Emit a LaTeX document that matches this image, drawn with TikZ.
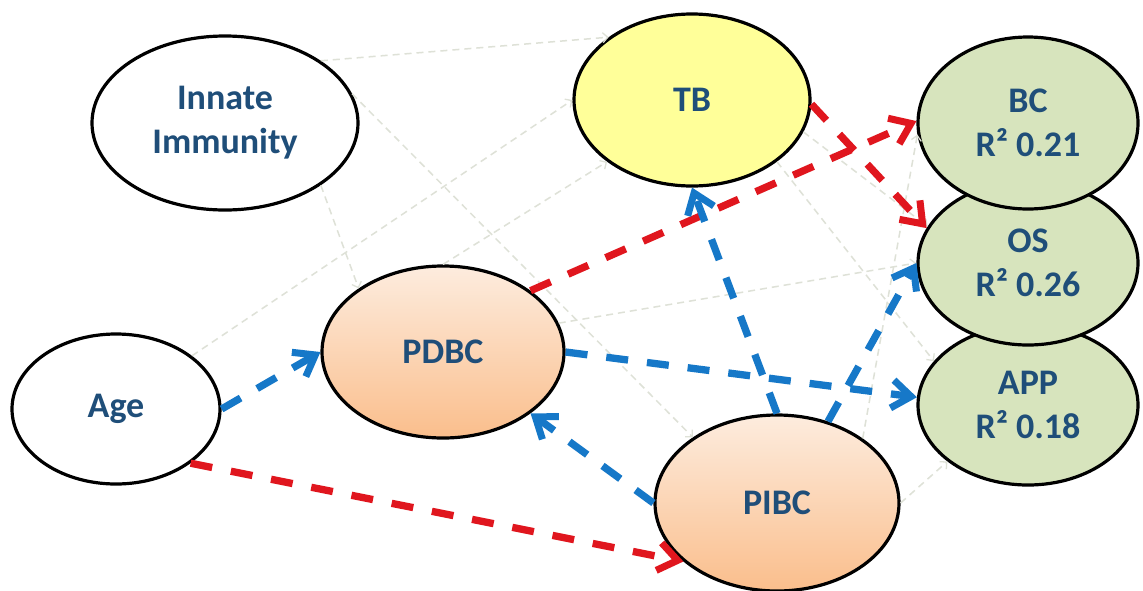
\documentclass[tikz,border=0pt]{standalone}
\usepackage{fontspec}
\setmainfont{Carlito}
\usetikzlibrary{shapes.geometric,arrows.meta}

\definecolor{txtblue}{RGB}{31,78,121}
\definecolor{pathred}{RGB}{224,22,30}
\definecolor{pathblue}{RGB}{22,120,200}
\definecolor{faintgray}{RGB}{222,225,215}
\definecolor{tbyellow}{RGB}{255,255,153}
\definecolor{outgreen}{RGB}{215,228,189}
\definecolor{peachtop}{RGB}{253,236,222}
\definecolor{peachbot}{RGB}{250,190,140}

\begin{document}
\begin{tikzpicture}[x=1pt,y=-1pt,
  var/.style={ellipse, draw=black, line width=3.2pt, inner sep=0pt, align=center,
    font=\fontsize{36}{44}\selectfont\bfseries, text=txtblue},
  plainvar/.style={var, fill=white},
  peachvar/.style={var, top color=peachtop, bottom color=peachbot},
  outvar/.style={var, fill=outgreen},
  faintpath/.style={draw=faintgray, line width=1.5pt, dash pattern=on 7pt off 5pt,
    -{Straight Barb[length=5pt,width=10pt,line width=1.3pt]}},
  strongpath/.style={line width=7.3pt, dash pattern=on 22pt off 19pt,
    -{Straight Barb[length=19pt,width=28pt,line width=7pt]}},
  negpath/.style={strongpath, draw=pathred},
  pospath/.style={strongpath, draw=pathblue}
]
\fill[white] (0,0) rectangle (1143,590);
\useasboundingbox (0,0) rectangle (1143,590);

% latent variables
\node[plainvar, minimum width=266pt, minimum height=174pt] (innate) at (225,123) {Innate\\Immunity};
\node[var, fill=tbyellow, minimum width=236pt, minimum height=172pt] (tb) at (692,100) {TB};
\node[plainvar, minimum width=208pt, minimum height=150pt] (age) at (116,409) {Age};
\node[peachvar, minimum width=242pt, minimum height=172pt] (pdbc) at (443,352) {PDBC};
\node[peachvar, minimum width=244pt, minimum height=176pt] (pibc) at (777,503) {PIBC};

% outcomes, stacked so that each upper one covers the next
\node[outvar, minimum width=220pt, minimum height=160pt] (app) at (1028,405) {APP\\R² 0.18};
\node[outvar, minimum width=220pt, minimum height=164pt] (os) at (1028,263) {OS\\R² 0.26};
\node[outvar, minimum width=220pt, minimum height=172pt] (bc) at (1028,123) {BC\\R² 0.21};

% non-significant paths
\draw[faintpath] (innate.33) -- (tb.143);
\draw[faintpath] (innate.13) -- (pibc.142);
\draw[faintpath] (innate.-33) -- (pdbc.143);
\draw[faintpath] (age.35) -- (tb.180);
\draw[faintpath] (pdbc.90) -- (tb.216);
\draw[faintpath] (pdbc.14) -- (os.180);
\draw[faintpath] (tb.-36) -- (app.155);
\draw[faintpath] (tb.-16) -- (os.160);
\draw[faintpath] (pibc.37) -- (bc.186);
\draw[faintpath] (pibc.0) -- (app.215);

% significant negative paths
\draw[negpath] (pdbc.35) -- (bc.179);
\draw[negpath] (tb.-2) -- (os.161);
\draw[negpath] (age.-36) -- (pibc.212);

% significant positive paths
\draw[pospath] (age.east) -- (pdbc.west);
\draw[pospath] (pibc.north) -- (tb.south);
\draw[pospath] (pibc.58) -- (os.west);
\draw[pospath] (pdbc.east) -- (app.176);
\draw[pospath] (pibc.west) -- (pdbc.-35);
\end{tikzpicture}
\end{document}
